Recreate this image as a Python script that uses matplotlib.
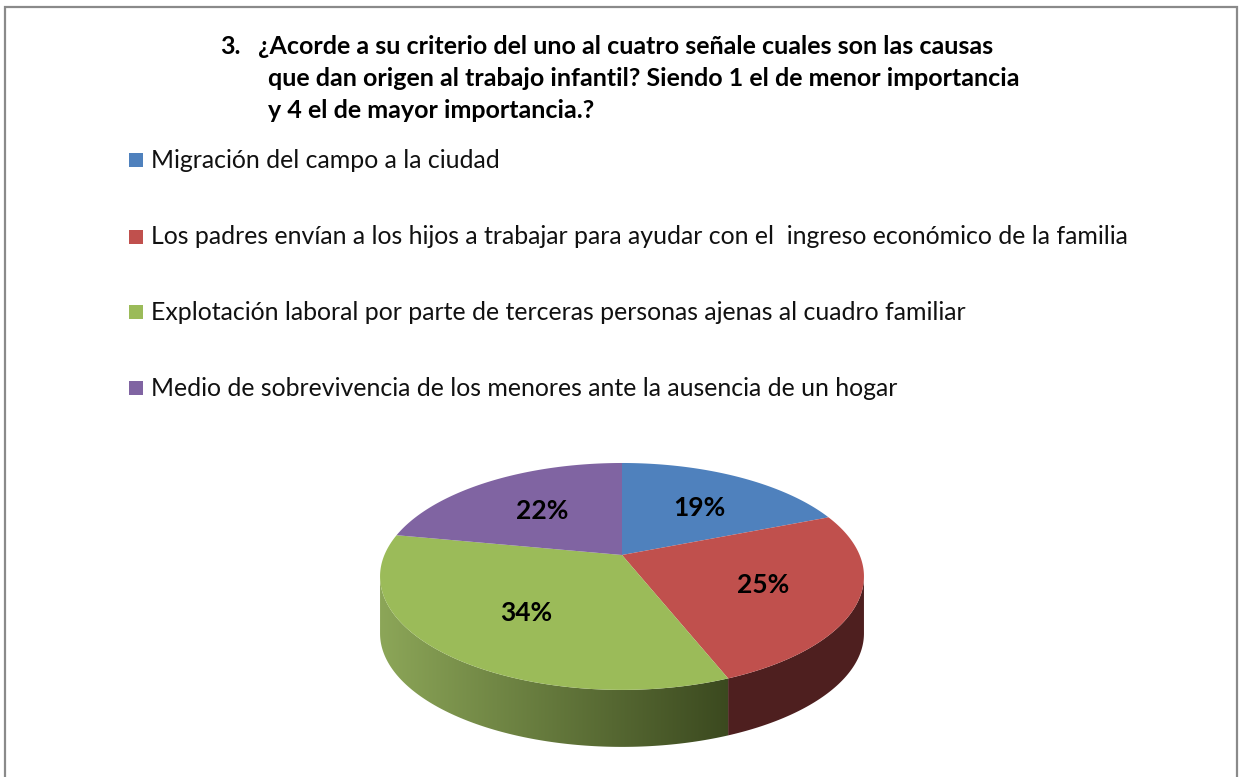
import numpy as np
import matplotlib
matplotlib.use("Agg")
import matplotlib.pyplot as plt
from matplotlib.patches import Polygon

# data
labels = ["Migración del campo a la ciudad",
          "Los padres envían a los hijos a trabajar para ayudar con el  ingreso económico de la familia",
          "Explotación laboral por parte de terceras personas ajenas al cuadro familiar",
          "Medio de sobrevivencia de los menores ante la ausencia de un hogar"]
values = [19, 25, 34, 22]
top_colors = ["#4f81bd", "#c0504d", "#9bbb59", "#8064a2"]
side_colors = ["#2c4a70", "#4e1f1f", "#6b8140", "#4a3a60"]
title_lines = ["¿Acorde a su criterio del uno al cuatro señale cuales son las causas",
               "que dan origen al trabajo infantil? Siendo 1 el de menor importancia",
               "y 4 el de mayor importancia.?"]

W, H = 1241, 777
fig = plt.figure(figsize=(W / 100, H / 100), dpi=100)
ax = fig.add_axes([0, 0, 1, 1])
ax.set_xlim(0, W)
ax.set_ylim(H, 0)
ax.axis("off")

# frame (open at the bottom)
ax.plot([5, 5, 1237, 1237], [H, 7, 7, H], color="#8a8a8a", lw=1.6, solid_joinstyle="miter")

# title
tfont = "Lato"
ax.text(220, 46, "3.", fontsize=18, fontweight="bold", family=tfont, va="center")
ax.text(258, 46, title_lines[0], fontsize=18, fontweight="bold", family=tfont, va="center")
ax.text(268, 78, title_lines[1], fontsize=18, fontweight="bold", family=tfont, va="center")
ax.text(268, 111, title_lines[2], fontsize=18, fontweight="bold", family=tfont, va="center")

# legend
leg_y = [160, 237, 312, 388]
for lab, col, y in zip(labels, top_colors, leg_y):
    ax.add_patch(plt.Rectangle((129, y - 7), 14, 14, color=col, lw=0))
    ax.text(151, y, lab, fontsize=17.9, family=tfont, va="center", color="#111111")

# 3d pie with a simple perspective projection
cx, cy = 622, 555
k = 0.189
a, b = 237.6, 109.4
depth = 57


def proj(u, v, dy=0):
    w = 1 - k * v
    return cx + a * u / w, cy + b * v / w + dy


def arc(t0, t1, dy=0, n=120):
    t = np.radians(np.linspace(t0, t1, n))
    x, y = proj(np.cos(t), -np.sin(t), dy)
    return np.column_stack([x, y])


fracs = np.array(values) / sum(values)
ends = 90 - 360 * np.cumsum(fracs)
starts = np.concatenate([[90], ends[:-1]])

s = np.degrees(np.arcsin(k))
front = [(-180 + s, -s)]

# side walls
for i in range(len(values)):
    lo, hi = ends[i], starts[i]
    for f0, f1 in front:
        a0, a1 = max(lo, f0), min(hi, f1)
        if a1 <= a0:
            continue
        top = arc(a0, a1)
        bot = arc(a1, a0, dy=depth)
        pts = np.vstack([top, bot])
        if i == 2:
            poly = Polygon(pts, closed=True, facecolor="none", edgecolor="none")
            ax.add_patch(poly)
            x0, x1 = pts[:, 0].min(), pts[:, 0].max()
            y0, y1 = pts[:, 1].min(), pts[:, 1].max()
            c0 = np.array([0x8c, 0xa6, 0x58]) / 255
            c1 = np.array([0x3b, 0x49, 0x1f]) / 255
            g = np.linspace(0, 1, 256)[None, :, None]
            img = c0 + (c1 - c0) * g
            im = ax.imshow(img, extent=[x0, x1, y1, y0], aspect="auto", zorder=1)
            im.set_clip_path(poly)
        else:
            ax.add_patch(Polygon(pts, closed=True, facecolor=side_colors[i], edgecolor="none", zorder=1))

ax.set_xlim(0, W)
ax.set_ylim(H, 0)

# top faces
for i in range(len(values)):
    pts = np.vstack([[proj(0, 0)], arc(starts[i], ends[i])])
    ax.add_patch(Polygon(pts, closed=True, facecolor=top_colors[i], edgecolor="none", zorder=2))

# percentage labels
for i in range(len(values)):
    mid = np.radians((starts[i] + ends[i]) / 2)
    x, y = proj(0.6 * np.cos(mid), -0.6 * np.sin(mid))
    ax.text(x + 4, y + 3, f"{values[i]}%", fontsize=19, fontweight="bold", family=tfont,
            ha="center", va="center", zorder=3)

fig.savefig("out.png", dpi=100)
